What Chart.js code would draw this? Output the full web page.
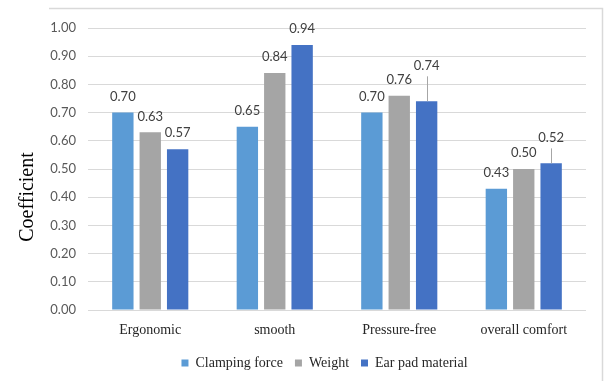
<!DOCTYPE html>
<html lang="en">
<head>
  <meta charset="UTF-8" />
  <title>Coefficient by comfort factor</title>
  <script src="https://cdn.jsdelivr.net/npm/chart.js"></script>
  <style>
    html, body { margin: 0; padding: 0; background: #fff; }
    #wrap { width: 605px; height: 381px; }
  </style>
</head>
<body>
<div id="wrap"><canvas id="coefChart" width="605" height="381"></canvas></div>
<script>
  // chart data
  const categories = ['Ergonomic', 'smooth', 'Pressure-free', 'overall comfort'];
  const seriesNames = ['Clamping force', 'Weight', 'Ear pad material'];
  const clampingForce = [0.70, 0.65, 0.70, 0.43];
  const weight = [0.63, 0.84, 0.76, 0.50];
  const earPadMaterial = [0.57, 0.94, 0.74, 0.52];
  const yMin = 0, yMax = 1, yStep = 0.1;

  const colors = ['#5B9BD5', '#A5A5A5', '#4472C4'];
  // labels pulled up with a leader line: "dataset-index" -> lift in px
  const raised = { '2-2': 36, '2-3': 26 };

  const barLabels = {
    id: 'barLabels',
    afterDatasetsDraw(chart) {
      const ctx = chart.ctx;
      ctx.save();
      ctx.font = '13px Lato';
      ctx.fillStyle = '#404040';
      ctx.textAlign = 'center';
      ctx.textBaseline = 'middle';
      chart.data.datasets.forEach((ds, di) => {
        chart.getDatasetMeta(di).data.forEach((bar, i) => {
          const key = di + '-' + i;
          const lift = raised[key] || 16;
          const y = bar.y - lift;
          if (raised[key]) {
            ctx.strokeStyle = '#A6A6A6';
            ctx.lineWidth = 1;
            ctx.beginPath();
            ctx.moveTo(Math.round(bar.x) + 0.5, bar.y);
            ctx.lineTo(Math.round(bar.x) + 0.5, y + 11);
            ctx.stroke();
          }
          ctx.fillText(ds.data[i].toFixed(2), bar.x, y);
        });
      });
      ctx.restore();
    }
  };

  const frameAndTitle = {
    id: 'frameAndTitle',
    afterLayout(chart) {
      // nudge the legend so it sits where the original one does
      chart.legend.left += 9;
      chart.legend.right += 9;
    },
    beforeDraw(chart) {
      const ctx = chart.ctx;
      ctx.save();
      ctx.fillStyle = '#fff';
      ctx.fillRect(0, 0, chart.width, chart.height);
      ctx.strokeStyle = '#D9D9D9';
      ctx.lineWidth = 1.5;
      ctx.beginPath();
      ctx.moveTo(49, 8.5);
      ctx.lineTo(602.5, 8.5);
      ctx.lineTo(602.5, chart.height);
      ctx.stroke();
      ctx.restore();
    },
    afterDraw(chart) {
      const ctx = chart.ctx;
      ctx.save();
      ctx.translate(28, 197);
      ctx.rotate(-Math.PI / 2);
      ctx.font = '20px "Liberation Serif"';
      ctx.fillStyle = '#000';
      ctx.textAlign = 'center';
      ctx.textBaseline = 'middle';
      ctx.fillText('Coefficient', 0, 0);
      ctx.restore();
    }
  };

  const seriesData = [clampingForce, weight, earPadMaterial];

  new Chart(document.getElementById('coefChart'), {
    type: 'bar',
    data: {
      labels: categories,
      datasets: seriesNames.map((name, i) => ({
        label: name,
        data: seriesData[i],
        backgroundColor: colors[i],
        borderWidth: 0,
        categoryPercentage: 0.66,
        barPercentage: 0.78
      }))
    },
    options: {
      responsive: false,
      animation: false,
      layout: { padding: { left: 45, right: 19, top: 28, bottom: 1 } },
      plugins: {
        legend: {
          position: 'bottom',
          labels: {
            boxWidth: 7,
            boxHeight: 7,
            padding: 12,
            color: '#262626',
            font: { family: '"Liberation Serif"', size: 14 }
          }
        },
        tooltip: { enabled: false }
      },
      scales: {
        x: {
          grid: { display: false },
          border: { display: false },
          ticks: {
            padding: 4,
            color: '#262626',
            font: { family: '"Liberation Serif"', size: 14 }
          },
          afterFit(axis) { axis.height = 34; }
        },
        y: {
          min: yMin,
          max: yMax,
          grid: { color: '#D9D9D9', drawTicks: false },
          border: { display: false },
          ticks: {
            stepSize: yStep,
            padding: 12,
            color: '#595959',
            font: { family: 'Lato', size: 13 },
            callback: v => v.toFixed(2)
          },
          afterFit(axis) { axis.width = 43; }
        }
      }
    },
    plugins: [barLabels, frameAndTitle]
  });
</script>
</body>
</html>
